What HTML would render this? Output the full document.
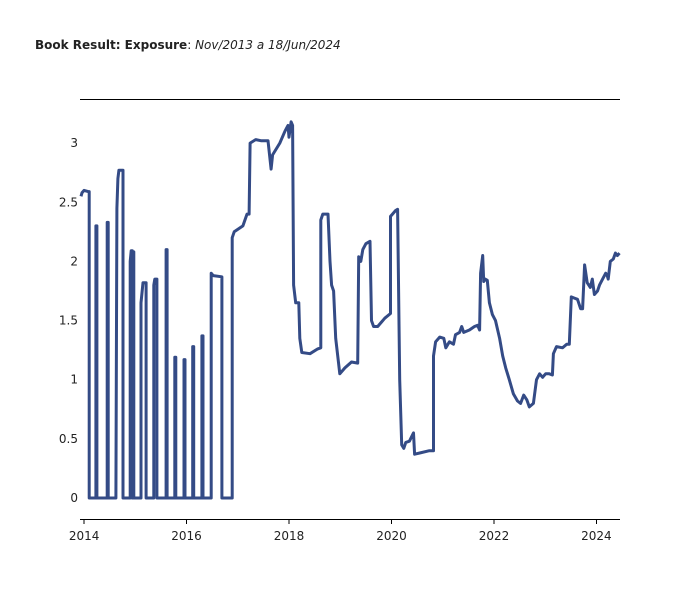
<!DOCTYPE html>
<html><head><meta charset="utf-8"><style>
body{margin:0;background:#fff;}
#wrap{position:relative;width:700px;height:600px;font-family:"DejaVu Sans","Liberation Sans",sans-serif;}
#title{position:absolute;left:35px;top:38px;font-size:12px;color:#222;}
</style></head><body>
<div id="wrap">
<div id="title"><b>Book Result: Exposure</b>: <i>Nov/2013 a 18/Jun/2024</i></div>
<svg id="chart" width="700" height="600" style="position:absolute;left:0;top:0"></svg>
</div>
<script>
const dates=[2013.94,2013.96,2014.0,2014.08,2014.10,2014.10,2014.23,2014.23,2014.25,2014.25,2014.45,2014.45,2014.47,2014.47,2014.62,2014.64,2014.66,2014.68,2014.76,2014.76,2014.90,2014.90,2014.92,2014.94,2014.94,2014.96,2014.96,2014.97,2014.97,2015.11,2015.11,2015.15,2015.21,2015.21,2015.36,2015.36,2015.38,2015.42,2015.42,2015.60,2015.60,2015.62,2015.62,2015.77,2015.77,2015.79,2015.79,2015.95,2015.95,2015.97,2015.97,2016.12,2016.12,2016.14,2016.14,2016.30,2016.30,2016.32,2016.32,2016.48,2016.48,2016.52,2016.69,2016.69,2016.89,2016.89,2016.93,2017.10,2017.18,2017.22,2017.24,2017.35,2017.45,2017.59,2017.65,2017.68,2017.82,2017.92,2017.98,2018.00,2018.04,2018.07,2018.09,2018.13,2018.19,2018.21,2018.25,2018.41,2018.56,2018.62,2018.62,2018.66,2018.76,2018.80,2018.83,2018.87,2018.91,2018.99,2019.09,2019.22,2019.34,2019.36,2019.40,2019.44,2019.50,2019.58,2019.61,2019.65,2019.73,2019.87,2019.98,2019.98,2020.02,2020.08,2020.12,2020.16,2020.20,2020.24,2020.28,2020.35,2020.43,2020.45,2020.55,2020.74,2020.82,2020.82,2020.86,2020.94,2021.02,2021.06,2021.13,2021.21,2021.25,2021.33,2021.37,2021.41,2021.52,2021.62,2021.68,2021.72,2021.74,2021.78,2021.80,2021.83,2021.87,2021.91,2021.97,2022.03,2022.11,2022.17,2022.23,2022.30,2022.38,2022.46,2022.52,2022.58,2022.64,2022.69,2022.77,2022.83,2022.89,2022.95,2023.01,2023.08,2023.14,2023.16,2023.22,2023.34,2023.42,2023.47,2023.51,2023.57,2023.63,2023.69,2023.73,2023.77,2023.82,2023.88,2023.92,2023.96,2024.02,2024.06,2024.12,2024.18,2024.21,2024.23,2024.27,2024.33,2024.37,2024.41,2024.45];
const values=[2.55,2.58,2.6,2.59,2.59,0,0,2.3,2.3,0,0,2.33,2.33,0,0,2.45,2.7,2.77,2.77,0,0,2.0,2.09,2.09,0,0,2.08,2.08,0,0,1.65,1.82,1.82,0,0,1.8,1.85,1.85,0,0,2.1,2.1,0,0,1.19,1.19,0,0,1.17,1.17,0,0,1.28,1.28,0,0,1.37,1.37,0,0,1.9,1.88,1.87,0,0,2.2,2.25,2.3,2.4,2.4,3.0,3.03,3.02,3.02,2.78,2.9,3.0,3.1,3.15,3.05,3.18,3.15,1.8,1.65,1.65,1.35,1.23,1.22,1.26,1.27,2.35,2.4,2.4,2.0,1.8,1.75,1.35,1.05,1.1,1.15,1.14,2.04,2.0,2.1,2.15,2.17,1.5,1.45,1.45,1.52,1.56,2.38,2.4,2.43,2.44,1.0,0.45,0.42,0.47,0.48,0.55,0.37,0.38,0.4,0.4,1.2,1.32,1.36,1.35,1.27,1.32,1.3,1.38,1.4,1.45,1.4,1.42,1.45,1.46,1.42,1.9,2.05,1.83,1.85,1.84,1.65,1.55,1.5,1.35,1.2,1.1,1.0,0.88,0.82,0.8,0.87,0.83,0.77,0.8,1.0,1.05,1.02,1.05,1.05,1.04,1.22,1.28,1.27,1.3,1.3,1.7,1.69,1.68,1.6,1.6,1.97,1.82,1.78,1.85,1.72,1.75,1.8,1.85,1.9,1.88,1.85,2.0,2.02,2.07,2.05,2.07];
const yTicks=[0,0.5,1,1.5,2,2.5,3];
const yTickLabels=["0","0.5","1","1.5","2","2.5","3"];
const xTicks=[2014,2016,2018,2020,2022,2024];
const xTickLabels=["2014","2016","2018","2020","2022","2024"];

const svg=document.getElementById('chart');
const NS='http://www.w3.org/2000/svg';
const X0=80,X1=620,T0=2013.92,T1=2024.46;
const xs=t=>X0+(t-T0)/(T1-T0)*(X1-X0);
const ys=v=>498-v*118.3;
function mk(tag,attrs){const e=document.createElementNS(NS,tag);for(const k in attrs)e.setAttribute(k,attrs[k]);svg.appendChild(e);return e;}

let e=mk('line',{x1:X0,x2:X1,y1:99.5,y2:99.5,stroke:'#000','stroke-width':1,'shape-rendering':'crispEdges'});


e=mk('line',{x1:X0,x2:X1,y1:519.5,y2:519.5,stroke:'#000','stroke-width':1,'shape-rendering':'crispEdges'});



yTicks.forEach((v,i)=>{
  const t=mk('text',{x:78,y:ys(v)+4,'text-anchor':'end','font-size':12,fill:'#222','font-family':'DejaVu Sans, Liberation Sans, sans-serif'});
  t.textContent=yTickLabels[i];
  
  
});
xTicks.forEach((v,i)=>{
  const l=mk('line',{x1:xs(v),x2:xs(v),y1:519.5,y2:524,stroke:'#000','shape-rendering':'crispEdges'});
  
  
  const t=mk('text',{x:xs(v),y:540,'text-anchor':'middle','font-size':12,fill:'#222','font-family':'DejaVu Sans, Liberation Sans, sans-serif'});
  t.textContent=xTickLabels[i];
  
  
});
const d=dates.map((t,i)=>(i?'L':'M')+xs(t).toFixed(1)+','+ys(values[i]).toFixed(1)).join('');
const p=mk('path',{d:d,fill:'none',stroke:'#344b86','stroke-width':3,'stroke-linejoin':'round'});


</script>
</body></html>
